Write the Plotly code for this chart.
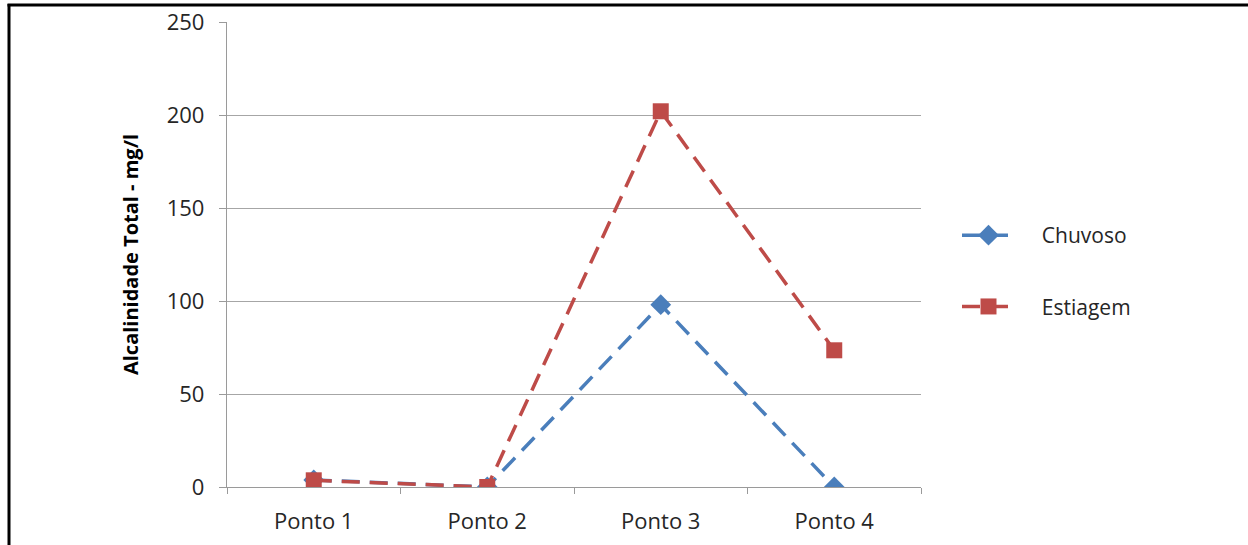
import plotly.graph_objects as go

categories = ["Ponto 1", "Ponto 2", "Ponto 3", "Ponto 4"]
chuvoso = [3.8, 0.0, 98.0, 0.0]
estiagem = [3.6, 0.0, 202.0, 73.5]
y_ticks = [0, 50, 100, 150, 200, 250]
series_names = ["Chuvoso", "Estiagem"]

FONT = "Open Sans"
W, H = 1248, 545
L, R, T, B = 227, 327, 22, 58
pw, ph = W - L - R, H - T - B
PAD = "\u00a0" * 4

fig = go.Figure()
fig.add_trace(go.Scatter(
    x=categories, y=chuvoso, name=PAD + series_names[0], mode="lines+markers",
    legendgroup="a",
    line=dict(color="#4A7EBB", width=3.5, dash="18px,10px"),
    marker=dict(symbol="diamond", size=16, color="#4A7EBB"),
))
fig.add_trace(go.Scatter(
    x=categories, y=estiagem, name=PAD + series_names[1], mode="lines+markers",
    legendgroup="b",
    line=dict(color="#BE4B48", width=3.5, dash="18px,10px"),
    marker=dict(symbol="square", size=16, color="#BE4B48"),
))

# frame lines (left and top), as in the reference image
px = lambda v: (v - L) / pw
py = lambda v: (H - B - v) / ph
fig.add_shape(type="line", xref="paper", yref="paper",
              x0=px(9), x1=px(9), y0=py(4), y1=py(H + 20),
              line=dict(color="black", width=3))
fig.add_shape(type="line", xref="paper", yref="paper",
              x0=px(7.5), x1=px(W + 20), y0=py(5), y1=py(5),
              line=dict(color="black", width=3))

fig.update_layout(
    width=W, height=H,
    margin=dict(l=L, r=R, t=T, b=B, autoexpand=False),
    paper_bgcolor="white", plot_bgcolor="white",
    font=dict(family=FONT, size=22, color="#262626"),
    xaxis=dict(
        type="category", range=[-0.5, 3.5], automargin=False,
        showgrid=False, showline=True, linecolor="#9a9a9a", linewidth=1.3,
        ticks="outside", tickson="boundaries", ticklen=6, tickcolor="#9a9a9a",
        tickfont=dict(family=FONT, size=22, color="#262626"),
        ticklabelstandoff=14,
        zeroline=False,
    ),
    yaxis=dict(
        range=[0, 250], tickvals=y_ticks, automargin=False,
        showgrid=True, gridcolor="#a6a6a6", gridwidth=1,
        showline=True, linecolor="#9a9a9a", linewidth=1.3,
        ticks="outside", ticklen=7, tickcolor="#9a9a9a",
        tickfont=dict(family=FONT, size=22, color="#262626"),
        ticklabelstandoff=10,
        zeroline=False,
        title=dict(text="<b>Alcalinidade Total - mg/l</b>",
                   font=dict(family=FONT, size=20, color="black"),
                   standoff=22),
    ),
    legend=dict(
        x=px(957), xanchor="left", y=py(215), yanchor="top",
        font=dict(family=FONT, size=21, color="#262626"),
        tracegroupgap=41, itemwidth=53, bgcolor="rgba(0,0,0,0)",
    ),
    showlegend=True,
)

fig.write_html("out.html", config={"displayModeBar": False})
with open("out.html", encoding="utf-8") as f:
    html = f.read()
html = html.replace("<head>", "<head><style>html,body{margin:0;padding:0;overflow:hidden;}</style>", 1)
with open("out.html", "w", encoding="utf-8") as f:
    f.write(html)
